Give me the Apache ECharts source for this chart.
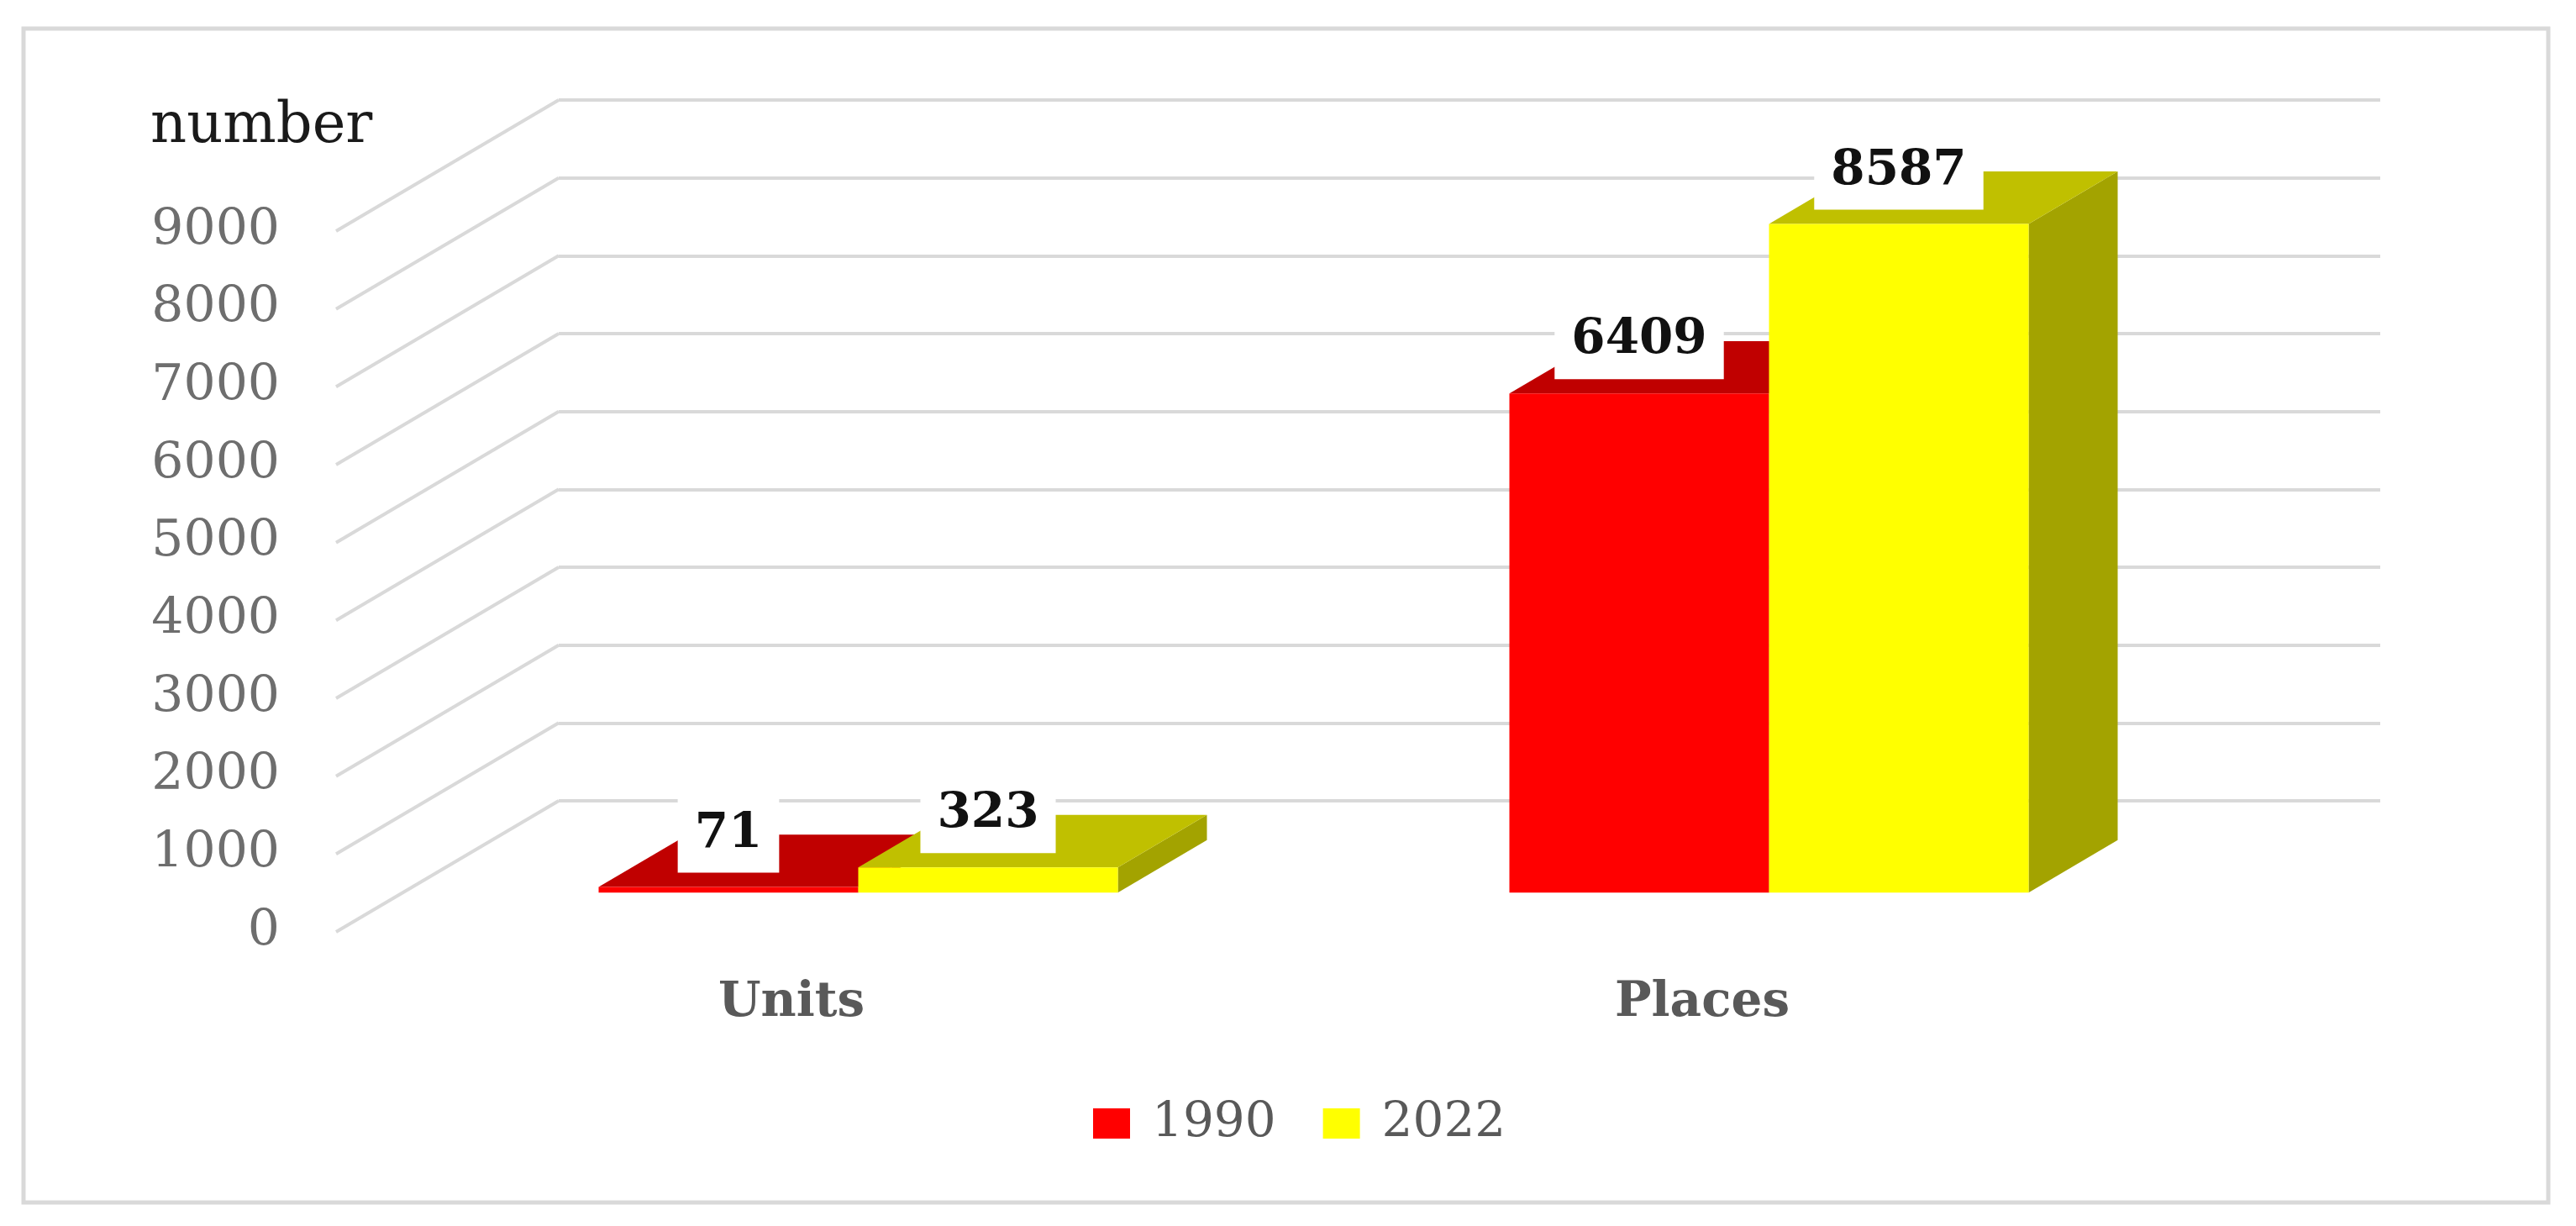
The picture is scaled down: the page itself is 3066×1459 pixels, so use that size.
<!DOCTYPE html>
<html>
<head>
<meta charset="utf-8">
<title>Units and places</title>
<style>
html, body { margin: 0; padding: 0; background: #fff; }
#chart { width: 3066px; height: 1459px; }
</style>
<script src="https://cdn.jsdelivr.net/npm/echarts@6/dist/echarts.min.js"></script>
</head>
<body>
<div id="chart"></div>
<script>
var categories = ['Units', 'Places'];
var values1990 = [71, 6409];
var values2022 = [323, 8587];
var yTicks = [0, 1000, 2000, 3000, 4000, 5000, 6000, 7000, 8000, 9000];

// depth of the fake 3d box, front plane to back wall
var depthX = 265, depthY = -156;
var barWidth = 309;
var serif = '"DejaVu Serif", serif';

// one 3d bar: side, top, front and the white value label
function barRenderer(offset, frontColor, topColor, sideColor) {
    return function (params, api) {
        var val = api.value(1);
        var base = api.coord([api.value(0), 0]);
        var tip = api.coord([api.value(0), val]);
        var shiftX = depthX * 0.3, shiftY = depthY * 0.3;
        var dx = depthX * 0.4, dy = depthY * 0.4;
        var x0 = base[0] + shiftX + offset * barWidth;
        var x1 = x0 + barWidth;
        var y0 = base[1] + shiftY;
        var y1 = tip[1] + shiftY;
        return {
            type: 'group',
            children: [
                {
                    type: 'polygon',
                    shape: { points: [[x1, y0], [x1 + dx, y0 + dy], [x1 + dx, y1 + dy], [x1, y1]] },
                    style: { fill: sideColor }
                },
                {
                    type: 'polygon',
                    shape: { points: [[x0, y1], [x1, y1], [x1 + dx, y1 + dy], [x0 + dx, y1 + dy]] },
                    style: { fill: topColor }
                },
                {
                    type: 'rect',
                    shape: { x: x0, y: y1, width: barWidth, height: y0 - y1 },
                    style: { fill: frontColor }
                },
                {
                    type: 'text',
                    z2: 20,
                    style: {
                        text: String(val),
                        x: x0 + barWidth / 2,
                        y: y1 - 63,
                        align: 'center',
                        verticalAlign: 'middle',
                        font: 'bold 58px ' + serif,
                        fill: '#111',
                        backgroundColor: '#fff',
                        padding: [17, 20, 17, 20]
                    }
                }
            ]
        };
    };
}

// the slanted floor/side lines, one per tick
function wallRenderer(params, api) {
    var y = api.coord([0, api.value(1)])[1];
    var x = params.coordSys.x;
    return {
        type: 'line',
        shape: { x1: x, y1: y, x2: x + depthX, y2: y + depthY },
        style: { stroke: '#d9d9d9', lineWidth: 4 }
    };
}

function pairs(values) {
    return values.map(function (v, i) { return [i, v]; });
}

var myChart = echarts.init(document.getElementById('chart'));
var option = {
    animation: false,
    backgroundColor: '#fff',
    title: {
        text: 'number',
        left: 174,
        top: 113,
        textStyle: { fontFamily: serif, fontWeight: 'normal', fontSize: 67, color: '#1a1a1a' }
    },
    legend: {
        data: ['1990', '2022'],
        left: 1296,
        top: 1303,
        icon: 'rect',
        itemWidth: 44,
        itemHeight: 36,
        itemGap: 56,
        textStyle: { fontFamily: serif, fontSize: 58, color: '#595959', padding: [0, 0, 0, 21] }
    },
    graphic: [{
        type: 'rect',
        silent: true,
        z: -1,
        shape: { x: 28, y: 34, width: 3005, height: 1397 },
        style: { fill: 'none', stroke: '#d9d9d9', lineWidth: 5 }
    }],
    grid: [
        // front plane, carries labels and bars
        { left: 400, top: 275, width: 2168, height: 834 },
        // back wall, only the horizontal lines
        { left: 665, top: 119, width: 2168, height: 834 }
    ],
    xAxis: [
        {
            type: 'category',
            gridIndex: 0,
            data: categories,
            axisLine: { show: false },
            axisTick: { show: false },
            axisLabel: {
                margin: 56,
                fontFamily: serif,
                fontWeight: 'bold',
                fontSize: 58,
                color: '#595959'
            }
        },
        { type: 'value', gridIndex: 1, show: false }
    ],
    yAxis: [
        {
            type: 'value',
            gridIndex: 0,
            min: 0,
            max: 9000,
            interval: 1000,
            axisLine: { show: false },
            axisTick: { show: false },
            splitLine: { show: false },
            axisLabel: {
                margin: 67,
                fontFamily: serif,
                fontSize: 60,
                color: '#6e6e6e',
                padding: [4, 0, 0, 0],
                formatter: function (v) { return String(v); }
            }
        },
        {
            type: 'value',
            gridIndex: 1,
            min: 0,
            max: 9000,
            interval: 1000,
            axisLine: { show: false },
            axisTick: { show: false },
            axisLabel: { show: false },
            splitLine: { show: true, lineStyle: { color: '#d9d9d9', width: 4 } }
        }
    ],
    series: [
        {
            name: 'walls',
            type: 'custom',
            xAxisIndex: 0,
            yAxisIndex: 0,
            renderItem: wallRenderer,
            data: yTicks.map(function (v) { return [0, v]; })
        },
        {
            name: '1990',
            type: 'custom',
            xAxisIndex: 0,
            yAxisIndex: 0,
            itemStyle: { color: '#ff0000' },
            renderItem: barRenderer(-1, '#ff0000', '#c00000', '#a00000'),
            data: pairs(values1990)
        },
        {
            name: '2022',
            type: 'custom',
            xAxisIndex: 0,
            yAxisIndex: 0,
            itemStyle: { color: '#ffff00' },
            renderItem: barRenderer(0, '#ffff00', '#c0c000', '#a3a300'),
            data: pairs(values2022)
        }
    ]
};
myChart.setOption(option);
window.onresize = function () {
    myChart.resize();
};
</script>
</body>
</html>
